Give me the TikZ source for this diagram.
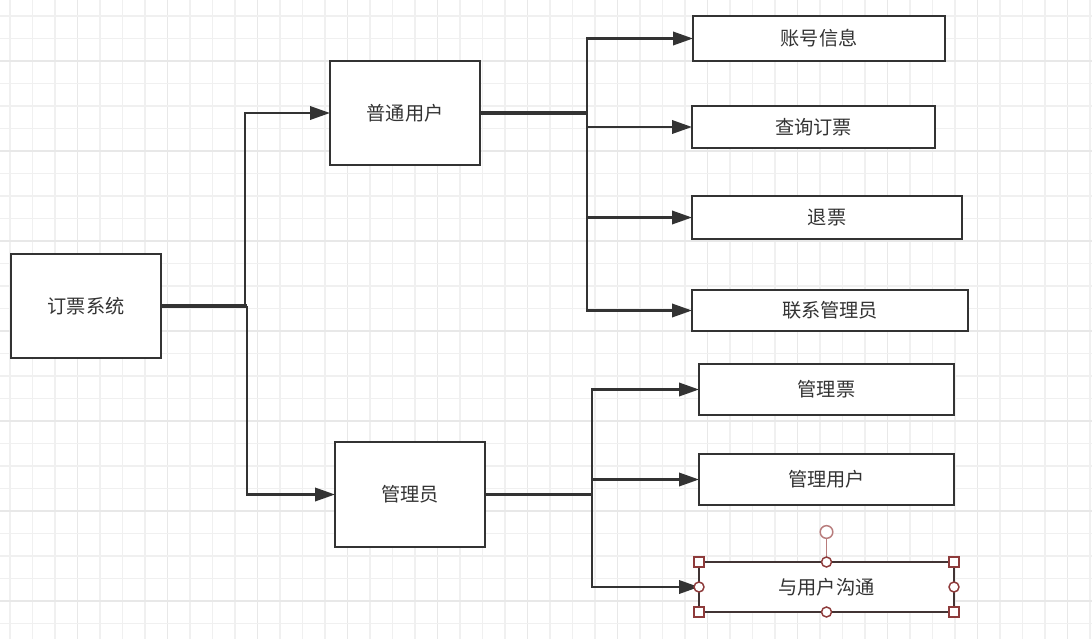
\documentclass[tikz,border=0pt]{standalone}
\usepackage{fontspec}
\newfontfamily\cjk{Noto Sans CJK SC}
\usetikzlibrary{arrows.meta}
\definecolor{ink}{HTML}{333333}
\definecolor{gridminor}{HTML}{F0F0F0}
\definecolor{gridmajor}{HTML}{E8E8E8}
\definecolor{sel}{HTML}{8E3B3B}
\definecolor{selfade}{HTML}{B87C7C}
\tikzset{
  box/.style={draw=ink, line width=1.6pt, fill=white, inner sep=0pt, outer sep=0pt,
    text=ink, font=\cjk\fontsize{14.4}{16}\selectfont},
  conn/.style={draw=ink, line width=1.9pt, -{Triangle[length=15pt,width=10pt]}},
  stem/.style={draw=ink, line width=2.3pt},
  handle/.style={draw=sel, fill=white, line width=1.1pt, inner sep=0pt, outer sep=0pt},
}
\begin{document}
\begin{tikzpicture}[x=0.75pt,y=-0.75pt]
\useasboundingbox (0,0) rectangle (1092,639);
\fill[white] (0,0) rectangle (1092,639);
% grid
\begin{scope}
\clip (0,0) rectangle (1092,639);
\foreach \i in {0,...,49} {
  \pgfmathsetmacro\xx{-12.5+22.5*\i}
  \pgfmathtruncatemacro\mm{mod(\i,4)}
  \ifnum\mm=0
    \draw[gridmajor, line width=1.1pt] (\xx,0) -- (\xx,639);
  \else
    \draw[gridminor, line width=1pt] (\xx,0) -- (\xx,639);
  \fi
}
\foreach \j in {0,...,30} {
  \pgfmathsetmacro\yy{-6.5+22.5*\j}
  \pgfmathtruncatemacro\mm{mod(\j+1,4)}
  \ifnum\mm=0
    \draw[gridmajor, line width=1.1pt] (0,\yy) -- (1092,\yy);
  \else
    \draw[gridminor, line width=1pt] (0,\yy) -- (1092,\yy);
  \fi
}
\end{scope}
% boxes
\node[box, minimum width=112.5pt, minimum height=78pt] (sys) at (86,306) {订票系统};
\node[box, minimum width=112.5pt, minimum height=78pt] (pt) at (405,113) {普通用户};
\node[box, minimum width=112.5pt, minimum height=78.75pt] (adm) at (410,494.5) {管理员};
\node[box, minimum width=189pt, minimum height=33.75pt] (a1) at (819,38.5) {账号信息};
\node[box, minimum width=182.25pt, minimum height=31.5pt] (a2) at (813.5,127) {查询订票};
\node[box, minimum width=202.5pt, minimum height=32.25pt] (a3) at (827,217.5) {退票};
\node[box, minimum width=207pt, minimum height=30.75pt] (a4) at (830,310.5) {联系管理员};
\node[box, minimum width=191.25pt, minimum height=38.25pt] (b1) at (826.5,389.5) {管理票};
\node[box, minimum width=191.25pt, minimum height=38.25pt] (b2) at (826.5,479.5) {管理用户};
\node[box, draw=ink!85!sel, minimum width=191.25pt, minimum height=37.5pt] (b3) at (826.5,587) {与用户沟通};
% junctions
\coordinate (j0) at (245,306);
\coordinate (j0b) at (247,306);
\coordinate (j1) at (587,113);
\coordinate (j2) at (592,494.5);
% connectors
\draw[stem] (sys.east) -- (j0b);
\draw[conn] (j0) |- (pt.west);
\draw[conn] (j0b) |- (adm.west);
\draw[stem] (pt.east) -- (j1);
\draw[conn] (j1) |- (a1.west);
\draw[conn] (j1) |- (a2.west);
\draw[conn] (j1) |- (a3.west);
\draw[conn] (j1) |- (a4.west);
\draw[stem] (adm.east) -- (j2);
\draw[conn] (j2) |- (b1.west);
\draw[conn] (j2) |- (b2.west);
\draw[conn] (j2) |- (b3.west);
% selection handles
\coordinate (rot) at (826.5,532);
\draw[selfade, line width=1.1pt] (b3.north) -- (rot);
\node[circle, draw=selfade, fill=white, line width=1.1pt, minimum size=9.5pt, inner sep=0pt] (rh) at (rot) {};
\foreach \p in {north west, north east, south west, south east}
  \node[handle, rectangle, minimum size=7.5pt] at (b3.\p) {};
\foreach \p in {north, south, east, west}
  \node[handle, circle, minimum size=7.5pt] at (b3.\p) {};
\end{tikzpicture}
\end{document}
